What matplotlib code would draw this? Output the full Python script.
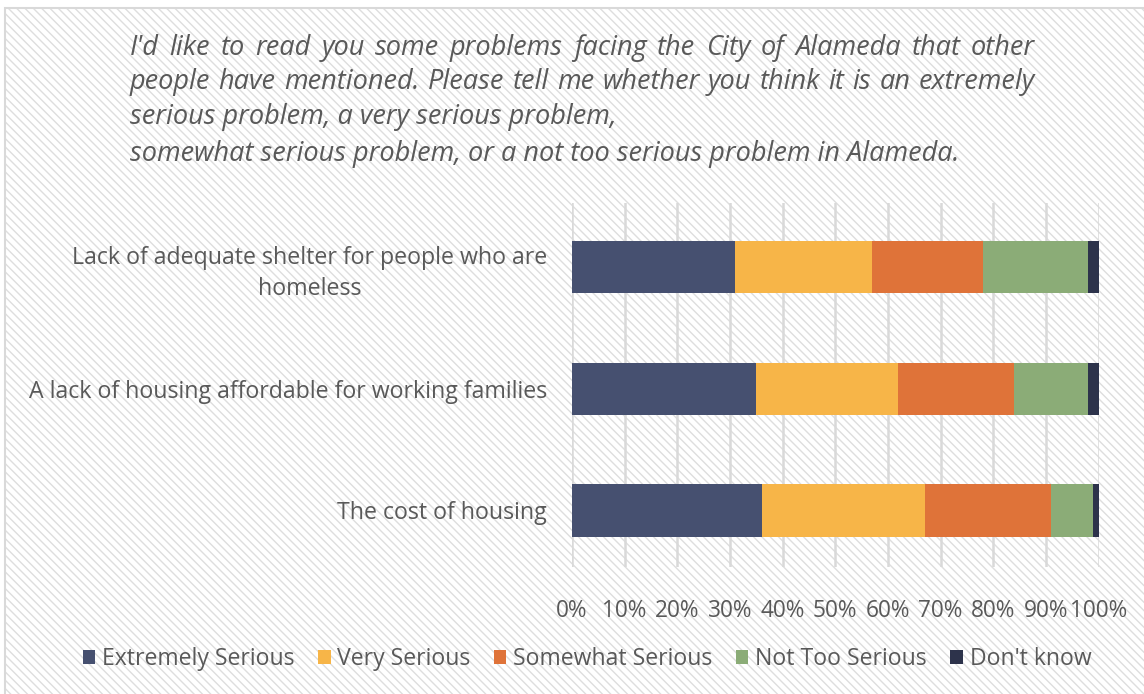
import matplotlib
matplotlib.use('Agg')
import matplotlib.pyplot as plt
import matplotlib.patches as mpatches
import numpy as np

# dados (percentual de respostas)
categorias = ['Lack of adequate shelter for people who are\nhomeless',
              'A lack of housing affordable for working families',
              'The cost of housing']
extremely = [31, 35, 36]
very = [26, 27, 31]
somewhat = [21, 22, 24]
not_too = [20, 14, 8]
dont_know = [2, 2, 1]

series = ['Extremely Serious', 'Very Serious', 'Somewhat Serious', 'Not Too Serious', "Don't know"]
cores = ['#465070', '#F7B548', '#DF7339', '#8BAC77', '#2D334B']
ticks = [0, 10, 20, 30, 40, 50, 60, 70, 80, 90, 100]

titulo = ["I'd like to read you some problems facing the City of Alameda that other",
          "people have mentioned. Please tell me whether you think it is an extremely",
          "serious problem, a very serious problem,",
          "somewhat serious problem, or a not too serious problem in Alameda."]

plt.rcParams['font.family'] = ['Open Sans', 'DejaVu Sans']
plt.rcParams['hatch.linewidth'] = 1.0
cinza = '#595959'

W, H = 1144, 694
fig = plt.figure(figsize=(W / 100, H / 100), dpi=100)
fig.patch.set_facecolor('white')

# fundo hachurado da área do gráfico
fundo = mpatches.Rectangle((5 / W, -0.05), 1.1, 1 - 8 / H + 0.05, transform=fig.transFigure,
                           facecolor='white', edgecolor='#dedede', hatch='\\\\\\\\', linewidth=0, zorder=-2)
borda = mpatches.Rectangle((5 / W, -0.05), 1.1, 1 - 8 / H + 0.05, transform=fig.transFigure,
                           fill=False, edgecolor='#d9d9d9', linewidth=1.5, zorder=-1)
fig.patches.extend([fundo, borda])

ax = fig.add_axes([572 / W, 1 - 567 / H, (1098.6 - 572) / W, (567 - 202.7) / H])
ax.set_facecolor('none')

y = np.arange(len(categorias))
valores = [extremely, very, somewhat, not_too, dont_know]
esquerda = np.zeros(len(categorias))
for nome, v, c in zip(series, valores, cores):
    ax.barh(y, v, left=esquerda, height=0.43, color=c, label=nome, zorder=3)
    esquerda += np.array(v)

ax.set_xlim(0, 100)
ax.set_ylim(2.465, -0.531)
ax.set_xticks(ticks)
ax.set_xticklabels([f'{t}%' for t in ticks], fontsize=16.3, color=cinza)
ax.set_yticks(y)
ax.set_yticklabels(categorias, fontsize=16.7, color=cinza, multialignment='center', linespacing=1.35)
ax.tick_params(axis='both', length=0)
ax.tick_params(axis='x', pad=23)
ax.tick_params(axis='y', pad=18)
ax.grid(axis='x', color='#d9d9d9', linewidth=1.8, zorder=0)
ax.set_axisbelow(True)
for s in ax.spines.values():
    s.set_visible(False)

# título em itálico, as duas primeiras linhas justificadas
renderer = fig.canvas.get_renderer()
tam_titulo = 19.5
def linha(texto, y_px, x0=130, x1=None):
    if x1 is None:
        fig.text(x0 / W, 1 - y_px / H, texto, fontsize=tam_titulo, style='italic', color=cinza, va='baseline')
        return
    palavras = texto.split()
    objs = [fig.text(0, 1 - y_px / H, p, fontsize=tam_titulo, style='italic', color=cinza, va='baseline')
            for p in palavras]
    larguras = [o.get_window_extent(renderer).width for o in objs]
    espaco = (x1 - x0 - sum(larguras)) / (len(palavras) - 1)
    x = x0
    for o, l in zip(objs, larguras):
        o.set_x(x / W)
        x += l + espaco

linha(titulo[0], 55, x1=1035)
linha(titulo[1], 89, x1=1035)
linha(titulo[2], 124)
linha(titulo[3], 161)

leg = fig.legend(loc='center', bbox_to_anchor=(587 / W, 1 - 659 / H), ncol=5, frameon=False,
                 fontsize=16.6, handlelength=0.55, handleheight=0.55, handletextpad=0.3,
                 columnspacing=1.0)
for t in leg.get_texts():
    t.set_color(cinza)

fig.savefig('out.png', dpi=100)
